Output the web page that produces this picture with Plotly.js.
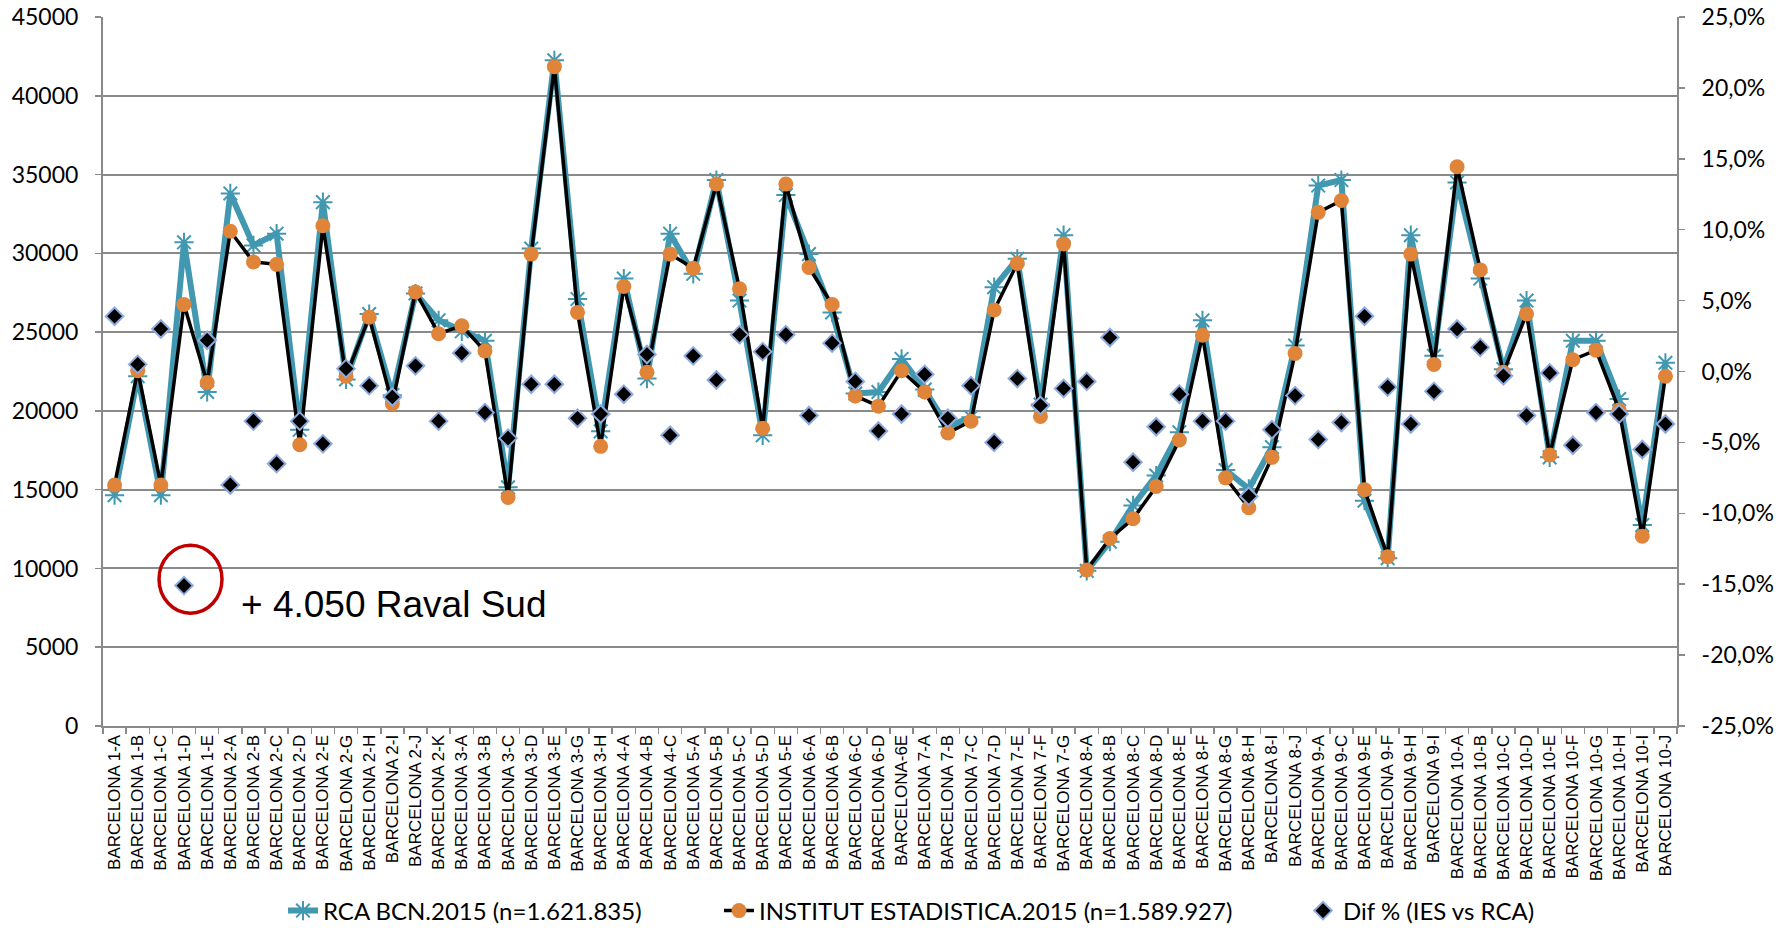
<!DOCTYPE html>
<html>
<head>
<meta charset="utf-8">
<script src="https://cdn.plot.ly/plotly-3.0.1.min.js"></script>
<style>html,body{margin:0;padding:0;background:#fff;}#chart{width:1792px;height:928px;}</style>
</head>
<body>
<div id="chart"></div>
<script>
var categories = ["BARCELONA 1-A","BARCELONA 1-B","BARCELONA 1-C","BARCELONA 1-D","BARCELONA 1-E",
"BARCELONA 2-A","BARCELONA 2-B","BARCELONA 2-C","BARCELONA 2-D","BARCELONA 2-E","BARCELONA 2-G","BARCELONA 2-H","BARCELONA 2-I","BARCELONA 2-J","BARCELONA 2-K",
"BARCELONA 3-A","BARCELONA 3-B","BARCELONA 3-C","BARCELONA 3-D","BARCELONA 3-E","BARCELONA 3-G","BARCELONA 3-H",
"BARCELONA 4-A","BARCELONA 4-B","BARCELONA 4-C",
"BARCELONA 5-A","BARCELONA 5-B","BARCELONA 5-C","BARCELONA 5-D","BARCELONA 5-E",
"BARCELONA 6-A","BARCELONA 6-B","BARCELONA 6-C","BARCELONA 6-D","BARCELONA-6E",
"BARCELONA 7-A","BARCELONA 7-B","BARCELONA 7-C","BARCELONA 7-D","BARCELONA 7-E","BARCELONA 7-F","BARCELONA 7-G",
"BARCELONA 8-A","BARCELONA 8-B","BARCELONA 8-C","BARCELONA 8-D","BARCELONA 8-E","BARCELONA 8-F","BARCELONA 8-G","BARCELONA 8-H","BARCELONA 8-I","BARCELONA 8-J",
"BARCELONA 9-A","BARCELONA 9-C","BARCELONA 9-E","BARCELONA 9-F","BARCELONA 9-H","BARCELONA 9-I",
"BARCELONA 10-A","BARCELONA 10-B","BARCELONA 10-C","BARCELONA 10-D","BARCELONA 10-E","BARCELONA 10-F","BARCELONA 10-G","BARCELONA 10-H","BARCELONA 10-I","BARCELONA 10-J"];

var rcaValues = [14650,22200,14650,30700,21200,
33800,30500,31250,18800,33250,22000,26150,21000,27450,25750,
25050,24450,15150,30300,42250,27100,18700,
28400,22050,31250,
28700,34650,27000,18450,33700,
29950,26250,21100,21200,23300,
21350,19000,19600,27850,29650,20400,31150,
9850,11700,14000,15900,18650,25750,16250,15050,17700,24150,
34300,34650,14300,10650,31150,23500,
34500,28400,22650,27000,17050,24450,24450,20750,12750,23050];

var iesValues = [15300,22550,15300,26750,21800,
31400,29450,29300,17850,31750,22200,25950,20450,27550,24900,
25400,23800,14500,29950,41850,26250,17750,
27900,22450,29950,
29050,34400,27750,18900,34400,
29100,26750,20950,20300,22550,
21200,18600,19350,26400,29350,19650,30600,
9900,11900,13150,15200,18150,24800,15750,13850,17050,23650,
32600,33350,15000,10750,29950,22950,
35500,28950,22450,26150,17200,23250,23850,20050,12050,22200];

var difValues = [0.039,0.005,0.030,-0.151,0.022,
-0.080,-0.035,-0.065,-0.035,-0.051,0.002,-0.010,-0.018,0.004,-0.035,
0.013,-0.029,-0.047,-0.009,-0.009,-0.033,-0.030,
-0.016,0.012,-0.045,
0.011,-0.006,0.026,0.014,0.026,
-0.031,0.020,-0.007,-0.042,-0.030,
-0.002,-0.033,-0.010,-0.050,-0.005,-0.024,-0.012,
-0.007,0.024,-0.064,-0.039,-0.016,-0.035,-0.035,-0.088,-0.041,-0.017,
-0.048,-0.036,0.039,-0.011,-0.037,-0.014,
0.030,0.017,-0.003,-0.031,-0.001,-0.052,-0.029,-0.030,-0.055,-0.037];

var leftTickVals = [0,5000,10000,15000,20000,25000,30000,35000,40000,45000];
var leftTickText = ["0","5000","10000","15000","20000","25000","30000","35000","40000","45000"];
var rightTickVals = [-0.25,-0.20,-0.15,-0.10,-0.05,0,0.05,0.10,0.15,0.20,0.25];
var rightTickText = ["-25,0%","-20,0%","-15,0%","-10,0%","-5,0%","0,0%","5,0%","10,0%","15,0%","20,0%","25,0%"];

var seriesNames = ["RCA BCN.2015 (n=1.621.835)", "INSTITUT ESTADISTICA.2015 (n=1.589.927)", "Dif % (IES vs RCA)"];
var noteText = "+ 4.050 Raval Sud";

var teal = "#4198B0", orange = "#E0843A", grid = "#8A8A8A";
var numFont = {family: "Lato, 'Open Sans', sans-serif", size: 23, color: "#000"};

var traces = [
  {x: categories, y: rcaValues, name: seriesNames[0], type: "scatter", mode: "lines+markers",
   line: {color: teal, width: 6}, marker: {symbol: "asterisk-open", size: 16, color: teal, line: {color: teal, width: 2}},
   legend: "legend"},
  {x: categories, y: iesValues, name: seriesNames[1], type: "scatter", mode: "lines+markers",
   line: {color: "#000", width: 3.5}, marker: {symbol: "circle", size: 15, color: orange},
   legend: "legend2"},
  {x: categories, y: difValues, name: seriesNames[2], type: "scatter", mode: "markers", yaxis: "y2",
   marker: {symbol: "diamond", size: 13.5, color: "#000", line: {color: "#8FAADC", width: 2}},
   legend: "legend3"}
];

function leg(px) {
  return {orientation: "h", xref: "container", yref: "container", x: px / 1792, y: 1 - 911 / 928,
          xanchor: "left", yanchor: "middle", bgcolor: "rgba(0,0,0,0)",
          font: {family: "Lato, 'Open Sans', sans-serif", size: 24, color: "#000"}};
}

var layout = {
  width: 1792, height: 928,
  margin: {l: 103, r: 115, t: 17, b: 202},
  paper_bgcolor: "#fff", plot_bgcolor: "#fff",
  showlegend: true,
  xaxis: {type: "category", range: [-0.5, categories.length - 0.5], tickangle: -90,
          tickfont: {family: "'Liberation Sans', Arial, sans-serif", size: 17, color: "#000"},
          showline: true, linecolor: grid, linewidth: 2, ticks: "outside", tickson: "boundaries",
          ticklen: 6, tickcolor: grid, tickwidth: 1.5, showgrid: false, zeroline: false, automargin: false},
  yaxis: {range: [0, 45000], tickmode: "array", tickvals: leftTickVals, ticktext: leftTickText,
          showgrid: true, gridcolor: grid, gridwidth: 2,
          showline: true, linecolor: grid, linewidth: 2, ticks: "outside", ticklen: 6, tickcolor: grid, tickwidth: 1.5,
          tickfont: numFont, zeroline: false, ticklabelstandoff: 12, automargin: false},
  yaxis2: {overlaying: "y", side: "right", range: [-0.25, 0.25], tickmode: "array", tickvals: rightTickVals, ticktext: rightTickText,
           showgrid: false, zeroline: false, showline: true, linecolor: grid, linewidth: 2,
           ticks: "outside", ticklen: 6, tickcolor: grid, tickwidth: 1.5, tickfont: numFont, ticklabelstandoff: 12, automargin: false},
  legend: leg(283), legend2: leg(719), legend3: leg(1303),
  annotations: [{text: noteText, xref: "paper", yref: "paper", x: 0.0864, y: 0.1707, xanchor: "left", yanchor: "middle",
                 showarrow: false, font: {family: "'Liberation Sans', Arial, sans-serif", size: 37, color: "#000"}}],
  shapes: [{type: "circle", xref: "paper", yref: "paper", x0: 0.0356, x1: 0.0756, y0: 0.159, y1: 0.255,
            line: {color: "#C00000", width: 3.5}}]
};

Plotly.newPlot("chart", traces, layout, {displayModeBar: false, staticPlot: true});
</script>
</body>
</html>
